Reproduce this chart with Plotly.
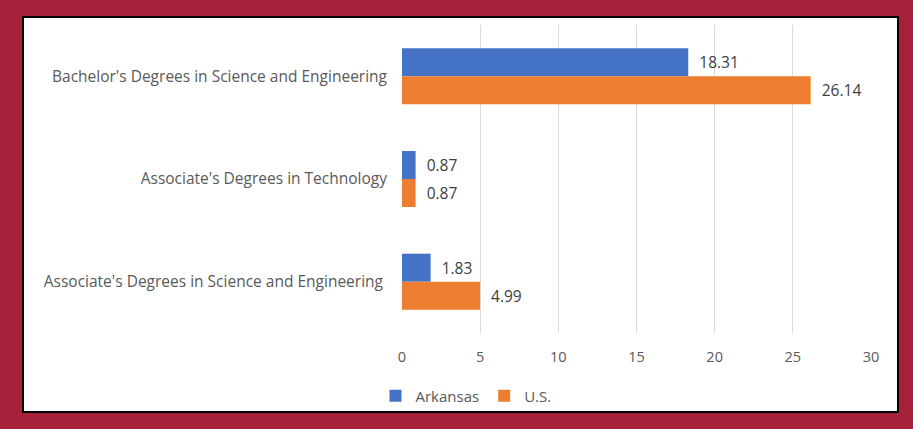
import plotly.graph_objects as go

categories = [
    "Bachelor's Degrees in Science and Engineering",
    "Associate's Degrees in Technology",
    "Associate's Degrees in Science and Engineering ",
]
arkansas = [18.31, 0.87, 1.83]
us = [26.14, 0.87, 4.99]
x_ticks = [0, 5, 10, 15, 20, 25, 30]

W, H = 913, 429
L, R, T, B = 402, 42, 25, 96
pw = W - L - R
ph = H - T - B

def px_x(x):
    return (x - L) / pw

def px_y(y):
    return (H - B - y) / ph

FONT = "'Open Sans', Lato, sans-serif"
label_font = dict(family=FONT, size=15.5, color="#404040")

fig = go.Figure()
fig.add_trace(go.Bar(
    y=categories, x=arkansas, name="Arkansas", orientation="h",
    marker=dict(color="#4472C4", line=dict(width=0)),
    text=arkansas, texttemplate="\u00a0\u00a0%{x:.2f}", textposition="outside",
    textfont=label_font, cliponaxis=False,
))
fig.add_trace(go.Bar(
    y=categories, x=us, name="U.S.", orientation="h",
    marker=dict(color="#ED7D31", line=dict(width=0)),
    text=us, texttemplate="\u00a0\u00a0%{x:.2f}", textposition="outside",
    textfont=label_font, cliponaxis=False,
))

fig.update_layout(
    width=W, height=H,
    margin=dict(l=L, r=R, t=T, b=B, pad=0),
    paper_bgcolor="#A6213A",
    plot_bgcolor="rgba(0,0,0,0)",
    barmode="group",
    bargap=0.455,
    bargroupgap=0,
    font=dict(family=FONT, size=14, color="#595959"),
    xaxis=dict(
        range=[0, 30], tickvals=x_ticks, showgrid=True, gridcolor="#D9D9D9",
        gridwidth=1, zeroline=False, showline=False, ticks="",
        ticklabelstandoff=13, tickfont=dict(size=14.5, color="#595959"),
        fixedrange=True,
    ),
    yaxis=dict(
        categoryorder="array", categoryarray=categories, autorange="reversed",
        showgrid=False, zeroline=False, showline=False, ticks="",
        ticklabelstandoff=14, tickfont=dict(size=15.5, color="#595959"),
        fixedrange=True,
    ),
    legend=dict(
        orientation="h", x=px_x(466), y=px_y(396), xanchor="center", yanchor="middle",
        font=dict(size=15, color="#595959"), bgcolor="rgba(0,0,0,0)",
        itemwidth=30, traceorder="normal",
    ),
    shapes=[dict(
        type="rect", xref="paper", yref="paper",
        x0=px_x(23), x1=px_x(898), y0=px_y(412), y1=px_y(17),
        fillcolor="white", line=dict(color="black", width=2), layer="below",
    )],
    showlegend=True,
)

fig.write_html(
    "out.html",
    config={"displayModeBar": False},
    post_script="document.body.style.margin='0';document.body.style.background='#A6213A';",
)
